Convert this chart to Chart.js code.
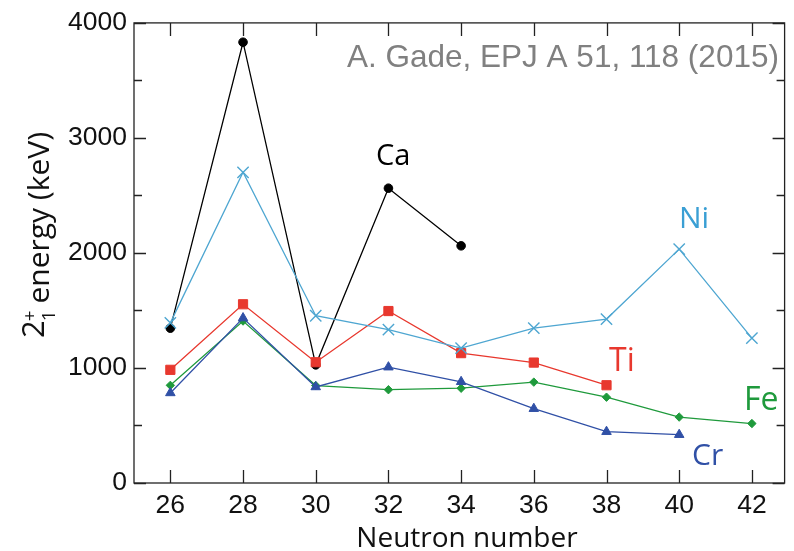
<!DOCTYPE html>
<html>
<head>
<meta charset="utf-8">
<script src="https://cdn.jsdelivr.net/npm/chart.js@4.4.1/dist/chart.umd.min.js"></script>
<style>
html,body{margin:0;padding:0;background:#fff;}
#wrap{width:794px;height:551px;position:relative;}
</style>
</head>
<body>
<div id="wrap"><canvas id="c" width="794" height="551"></canvas></div>
<script>
// ---- data ----
const neutronNumbers = [26, 28, 30, 32, 34, 36, 38, 40, 42];
const xTicks = [26, 28, 30, 32, 34, 36, 38, 40, 42];
const yTicks = [0, 1000, 2000, 3000, 4000];
const yMinorTicks = [500, 1500, 2500, 3500];
const caValues = [1346, 3832, 1027, 2563, 2062];
const niValues = [1392, 2701, 1454, 1333, 1173, 1346, 1425, 2033, 1260];
const tiValues = [984, 1554, 1050, 1495, 1129, 1047, 850];
const crValues = [783, 1434, 835, 1007, 880, 646, 446, 420];
const feValues = [849, 1408, 847, 811, 824, 877, 746, 573, 517];

function pts(vals){ return vals.map((v,i)=>({x:neutronNumbers[i], y:v})); }

const COL = {ca:'#000000', ni:'#4ea6d1', ti:'#e8382e', cr:'#3050a6', fe:'#1f9a3c'};

const frameAndTicks = {
  id:'frameAndTicks',
  afterDraw(chart){
    const {ctx, chartArea:a, scales:{x, y}} = chart;
    ctx.save();
    ctx.strokeStyle = '#222';
    ctx.lineWidth = 1.3;
    ctx.strokeRect(a.left, a.top, a.right - a.left, a.bottom - a.top);
    ctx.beginPath();
    xTicks.forEach(t=>{
      const px = Math.round(x.getPixelForValue(t)) + 0.5;
      ctx.moveTo(px, a.bottom); ctx.lineTo(px, a.bottom - 13);
      ctx.moveTo(px, a.top); ctx.lineTo(px, a.top + 13);
    });
    yTicks.forEach(t=>{
      const py = Math.round(y.getPixelForValue(t)) + 0.5;
      ctx.moveTo(a.left, py); ctx.lineTo(a.left + 12, py);
      ctx.moveTo(a.right, py); ctx.lineTo(a.right - 12, py);
    });
    yMinorTicks.forEach(t=>{
      const py = Math.round(y.getPixelForValue(t)) + 0.5;
      ctx.moveTo(a.left, py); ctx.lineTo(a.left + 8, py);
      ctx.moveTo(a.right, py); ctx.lineTo(a.right - 8, py);
    });
    ctx.stroke();

    // series labels
    ctx.textBaseline = 'alphabetic';
    ctx.textAlign = 'left';
    const lab = (t, c, px, py, size) => {
      ctx.fillStyle = c;
      ctx.font = size + 'px "Open Sans"';
      ctx.fillText(t, px, py);
    };
    lab('Ca', COL.ca, 376, 165, 29);
    lab('Ni', '#3a9fd4', 679, 228, 30);
    lab('Ti', COL.ti, 609, 371, 32);
    lab('Fe', COL.fe, 744, 410, 32);
    lab('Cr', COL.cr, 692, 465, 30);

    // citation
    ctx.fillStyle = '#808080';
    ctx.font = '31.5px "Liberation Sans"';
    ctx.fillText('A. Gade, EPJ A 51, 118 (2015)', 347, 67);

    // x title
    ctx.fillStyle = '#111';
    ctx.font = '28px "Open Sans"';
    ctx.textAlign = 'center';
    ctx.fillText('Neutron number', 467, 547);

    // y title (rotated) with sub/superscript
    ctx.save();
    ctx.translate(49, 338);
    ctx.rotate(-Math.PI/2);
    ctx.textAlign = 'left';
    ctx.font = '31px "Open Sans"';
    ctx.fillText('2', 0, -5);
    const w2 = ctx.measureText('2').width;
    ctx.font = '19px "Open Sans"';
    ctx.fillText('+', w2 - 1, -13);
    ctx.fillText('1', w2 - 1, 6);
    const w1 = ctx.measureText('+').width;
    ctx.font = '30px "Open Sans"';
    ctx.fillText(' energy (keV)', w2 + w1 - 2, 0);
    ctx.restore();
    ctx.restore();
  }
};

function ds(label, vals, color, style, radius, bw, lw){
  return {
    label, data: pts(vals),
    borderColor: color, backgroundColor: color,
    borderWidth: lw,
    pointStyle: style, pointRadius: radius, pointHoverRadius: radius,
    pointBorderWidth: bw, pointBorderColor: color, pointBackgroundColor: color,
    showLine: true, tension: 0, fill: false
  };
}

new Chart(document.getElementById('c'), {
  type: 'scatter',
  data: {
    datasets: [
      ds('Ni', niValues, COL.ni, 'crossRot', 8, 1.4, 1.3),
      ds('Ti', tiValues, COL.ti, 'rect', 6.5, 1, 1.3),
      ds('Cr', crValues, COL.cr, 'triangle', 5.5, 1, 1.3),
      ds('Fe', feValues, COL.fe, 'rectRot', 4.2, 1, 1.3),
      ds('Ca', caValues, COL.ca, 'circle', 4.3, 1, 1.3)
    ]
  },
  options: {
    responsive: false,
    animation: false,
    devicePixelRatio: 1,
    layout: { padding: { top: 19, right: 1, left: 0, bottom: 0 } },
    plugins: { legend: { display: false }, tooltip: { enabled: false } },
    scales: {
      x: {
        type: 'linear', min: 25, max: 42.9,
        afterBuildTicks(s){ s.ticks = xTicks.map(v=>({value:v})); },
        afterFit(s){ s.height = 68; },
        grid: { display: false, drawTicks: false },
        border: { display: false },
        ticks: { color: '#111', font: { family: '"Liberation Sans"', size: 26.5 }, padding: 7, maxRotation: 0, autoSkip: false,
                 callback: v => String(v) }
      },
      y: {
        type: 'linear', min: 0, max: 4000,
        afterBuildTicks(s){ s.ticks = yTicks.map(v=>({value:v})); },
        afterFit(s){ s.width = 134; },
        grid: { display: false, drawTicks: false },
        border: { display: false },
        ticks: { color: '#111', font: { family: '"Liberation Sans"', size: 26.5 }, padding: 7,
                 callback: v => String(v) }
      }
    }
  },
  plugins: [frameAndTicks]
});
</script>
</body>
</html>
